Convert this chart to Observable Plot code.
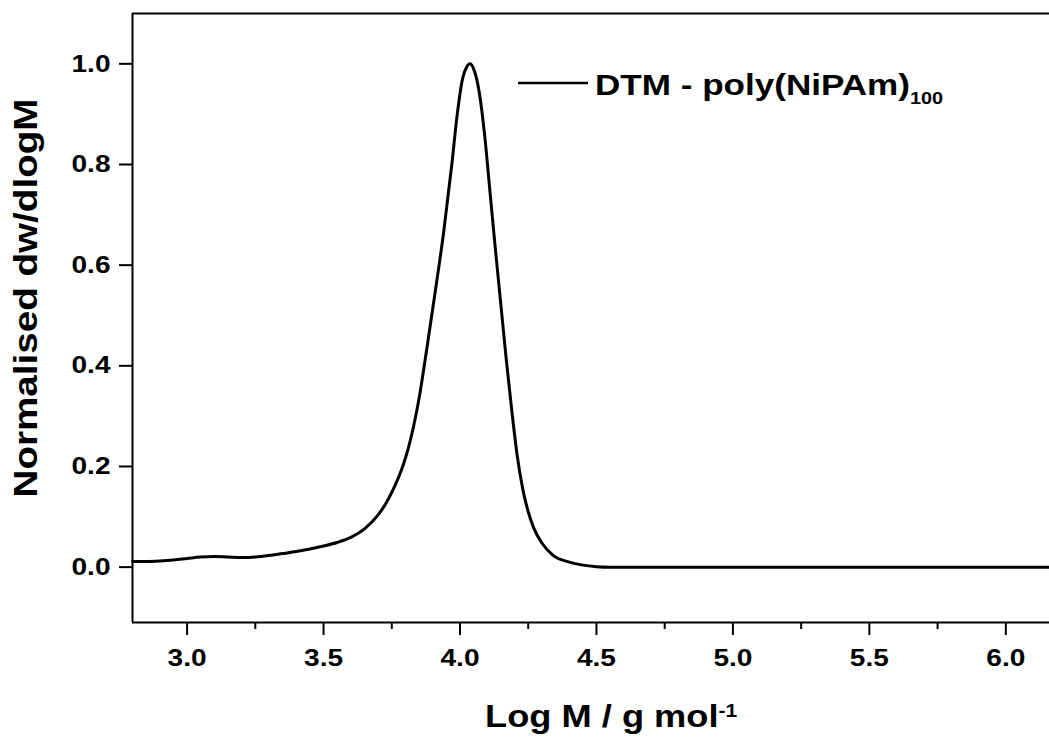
<!DOCTYPE html>
<html>
<head>
<meta charset="utf-8">
<script src="https://cdn.jsdelivr.net/npm/d3@7"></script>
<script src="https://cdn.jsdelivr.net/npm/@observablehq/plot@0.6"></script>
<style>
  html, body { margin: 0; padding: 0; background: #fff; }
  #chart { width: 1049px; height: 738px; }
</style>
</head>
<body>
<div id="chart"></div>
<script>
// ---- Data ----
const logM = [2.80, 2.85, 2.90, 2.95, 3.00, 3.05, 3.10, 3.15, 3.20, 3.25, 3.30, 3.35, 3.40, 3.45,
  3.50, 3.55, 3.60, 3.65, 3.70, 3.73, 3.76, 3.79, 3.81, 3.83, 3.85, 3.88, 3.91, 3.94, 3.97, 3.99,
  4.01, 4.025, 4.036, 4.05, 4.07, 4.09, 4.11, 4.13, 4.15, 4.17, 4.19, 4.21, 4.23, 4.25, 4.27, 4.30,
  4.34, 4.40, 4.45, 4.50, 4.55, 4.60, 5.00, 5.50, 6.00, 6.16];
const dw = [0.011, 0.011, 0.012, 0.014, 0.017, 0.020, 0.021, 0.020, 0.019, 0.020, 0.023, 0.027, 0.031, 0.036,
  0.042, 0.049, 0.059, 0.076, 0.104, 0.128, 0.160, 0.200, 0.235, 0.280, 0.335, 0.440, 0.550, 0.665, 0.800, 0.900,
  0.972, 0.994, 1.000, 0.990, 0.945, 0.860, 0.745, 0.630, 0.520, 0.410, 0.310, 0.220, 0.155, 0.110, 0.078, 0.048,
  0.024, 0.010, 0.004, 0.001, 0.000, 0.000, 0.000, 0.000, 0.000, 0.000];

const xDomain = [2.8, 6.16];
const yDomain = [-0.11, 1.1];
const xTicks = [3.0, 3.5, 4.0, 4.5, 5.0, 5.5, 6.0];
const xMinorTicks = [3.25, 3.75, 4.25, 4.75, 5.25, 5.75];
const yTicks = [0.0, 0.2, 0.4, 0.6, 0.8, 1.0];

const seriesName = "DTM - poly(NiPAm)";
const seriesSub = "100";
const xTitle = "Log M / g mol";
const xTitleSup = "-1";
const yTitle = "Normalised dw/dlogM";

// ---- Chart ----
const data = logM.map((x, i) => ({x, y: dw[i]}));
const fmt = d3.format(".1f");
const FONT = "'Liberation Sans', Arial, Helvetica, sans-serif";
const STRETCH = 1.17;

const chart = Plot.plot({
  width: 1049,
  height: 738,
  marginLeft: 132,
  marginRight: 0,
  marginTop: 13,
  marginBottom: 116,
  style: {fontFamily: FONT, fontSize: "24px", fontWeight: "bold", color: "black", background: "white", overflow: "visible"},
  x: {domain: xDomain},
  y: {domain: yDomain},
  marks: [
    Plot.ruleY([yDomain[1]], {stroke: "black", strokeWidth: 2}),
    Plot.ruleY([yDomain[0]], {stroke: "black", strokeWidth: 2}),
    Plot.ruleX([xDomain[0]], {stroke: "black", strokeWidth: 2}),
    Plot.axisX(xTicks, {tickSize: 13, tickPadding: 13, tickFormat: fmt, strokeWidth: 2, fontSize: 24, fontWeight: "bold", label: null}),
    Plot.axisX(xMinorTicks, {tickSize: 7, tickFormat: () => "", strokeWidth: 2, label: null}),
    Plot.axisY(yTicks, {tickSize: 13, tickPadding: 9, tickFormat: fmt, strokeWidth: 2, fontSize: 24, fontWeight: "bold", label: null}),
    Plot.line(data, {x: "x", y: "y", curve: "monotone-x", stroke: "black", strokeWidth: 3})
  ]
});

document.getElementById("chart").appendChild(chart);

// widen the text horizontally (the original font is wider than Arial)
d3.select(chart).selectAll("text").each(function () {
  const t = this;
  const tr = t.getAttribute("transform") || "";
  const x = parseFloat(t.getAttribute("x")) || 0;
  if (x) t.removeAttribute("x");
  t.setAttribute("transform", `${tr} translate(${x},0) scale(${STRETCH},1)`);
});

const svg = d3.select(chart);

// legend
svg.append("line")
  .attr("x1", 518).attr("x2", 588).attr("y1", 83).attr("y2", 83)
  .attr("stroke", "black").attr("stroke-width", 2.5);
const lt = svg.append("text")
  .attr("transform", `translate(595,95) scale(${STRETCH},1)`)
  .attr("text-anchor", "start")
  .attr("font-family", FONT).attr("font-weight", "bold").attr("font-size", 30).attr("fill", "black");
lt.append("tspan").text(seriesName);
lt.append("tspan").attr("font-size", 17).attr("dy", 9).text(seriesSub);

// x title
const xt = svg.append("text")
  .attr("transform", `translate(485,727) scale(${STRETCH},1)`)
  .attr("text-anchor", "start")
  .attr("font-family", FONT).attr("font-weight", "bold").attr("font-size", 31).attr("fill", "black");
xt.append("tspan").text(xTitle);
xt.append("tspan").attr("font-size", 18).attr("dy", -10).text(xTitleSup);

// y title
svg.append("text")
  .attr("transform", `translate(37,298) rotate(-90) scale(${STRETCH},1)`)
  .attr("text-anchor", "middle")
  .attr("font-family", FONT).attr("font-weight", "bold").attr("font-size", 33).attr("fill", "black")
  .text(yTitle);
</script>
</body>
</html>
